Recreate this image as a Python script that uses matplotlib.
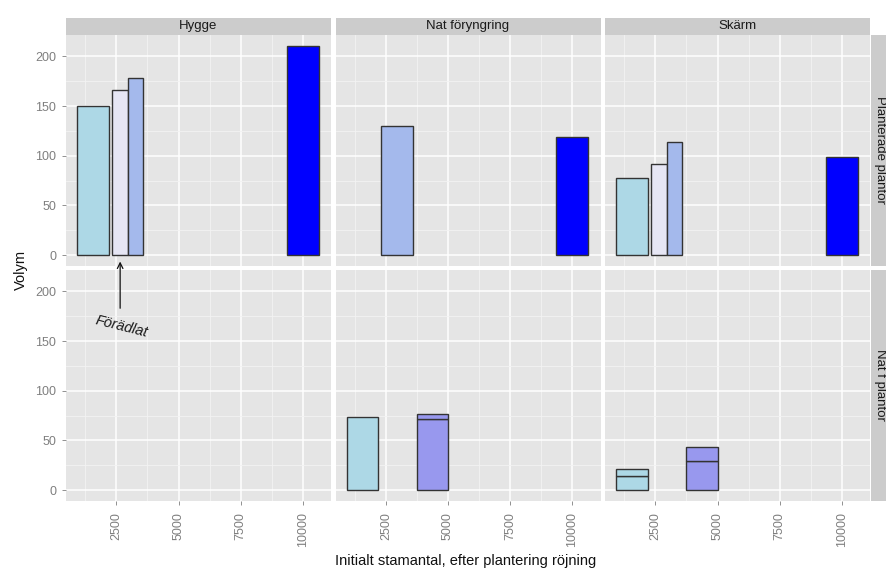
import matplotlib
matplotlib.use('Agg')
import matplotlib.pyplot as plt
from matplotlib.patches import Rectangle
import numpy as np

plt.rcParams['font.family'] = ['Liberation Sans', 'DejaVu Sans']

# ---------------- data ----------------
col_facets = ["Hygge", "Nat föryngring", "Skärm"]
row_facets = ["Planterade plantor", "Nat f plantor"]

x_ticks = [2500, 5000, 7500, 10000]
y_ticks = [0, 50, 100, 150, 200]

# one entry per bar segment
bar_row   = [0, 0, 0, 0,   0, 0,   0, 0, 0, 0,   1, 1, 1,   1, 1, 1, 1]
bar_col   = [0, 0, 0, 0,   1, 1,   2, 2, 2, 2,   1, 1, 1,   2, 2, 2, 2]
bar_stems = [1560, 2950, 2950, 10000,
             2950, 10000,
             1560, 2950, 2950, 10000,
             1560, 4370, 4370,
             1560, 1560, 4370, 4370]
bar_volume = [150, 166, 178, 210,
              130, 119,
              78, 92, 114, 99,
              74, 72, 5,
              14, 7, 29, 14]
bar_group = ["g1", "g2", "g3", "g4",
             "g3", "g4",
             "g1", "g2", "g3", "g4",
             "g1", "g5", "g5",
             "g1", "g1", "g5", "g5"]
# dodge slot: -1 left half, 0 full width, 1 right half
bar_dodge = [0, -1, 1, 0,
             0, 0,
             0, -1, 1, 0,
             0, 0, 0,
             0, 0, 0, 0]

group_colors = {"g1": "#ADD8E6", "g2": "#E6E6F4", "g3": "#A4B9EC",
                "g4": "#0000FF", "g5": "#9898EE"}

annotation_text = "Förädlat"
x_label = "Initialt stamantal, efter plantering röjning"
y_label = "Volym"

# ---------------- layout ----------------
W, H = 886, 570
fig = plt.figure(figsize=(W / 100, H / 100), dpi=100)
fig.patch.set_facecolor('white')

panel_x = [66, 335.5, 605]
panel_w = 265
panel_top = [34.5, 269.5]
panel_h = 231.5
strip_h = 17

xlim = (470, 11140)
ylim = (-11, 222)
bar_w = 1275

TICK_GREY = '#7F7F7F'


def fx(px):
    return px / W


def fy(py):
    return 1 - py / H


axes = {}
for r in range(2):
    for c in range(3):
        x0 = panel_x[c]
        y0 = panel_top[r]
        ax = fig.add_axes([fx(x0), fy(y0 + panel_h), panel_w / W, panel_h / H])
        ax.set_facecolor('#E5E5E5')
        for s in ax.spines.values():
            s.set_visible(False)
        ax.set_xlim(*xlim)
        ax.set_ylim(*ylim)
        ax.set_xticks(x_ticks)
        ax.set_yticks(y_ticks)
        ax.set_xticks(np.arange(x_ticks[0] / 2, xlim[1], x_ticks[1] - x_ticks[0]), minor=True)
        ax.set_yticks(np.arange(y_ticks[1] / 2, ylim[1], y_ticks[1] - y_ticks[0]), minor=True)
        ax.grid(which='major', color='white', lw=1.1)
        ax.grid(which='minor', color='#F3F3F3', lw=0.6)
        ax.set_axisbelow(True)
        ax.tick_params(which='minor', length=0)
        ax.tick_params(which='major', length=3, width=0.6, color=TICK_GREY,
                       labelcolor=TICK_GREY, labelsize=9)
        ax.tick_params(axis='y', pad=4)
        ax.tick_params(axis='x', labelrotation=90, pad=5)
        ax.set_xticklabels([str(v) for v in x_ticks])
        ax.set_yticklabels([str(v) for v in y_ticks])
        if c != 0:
            ax.tick_params(axis='y', left=False, labelleft=False)
        if r != 1:
            ax.tick_params(axis='x', bottom=False, labelbottom=False)
        axes[(r, c)] = ax

# bars (stacked where same slot repeats)
stack = {}
for r, c, xs, v, g, d in zip(bar_row, bar_col, bar_stems, bar_volume, bar_group, bar_dodge):
    key = (r, c, xs, d)
    base = stack.get(key, 0)
    if d == 0:
        xc, w = xs, bar_w
    else:
        xc, w = xs + d * bar_w / 4, bar_w / 2
    axes[(r, c)].bar(xc, v, width=w, bottom=base, color=group_colors[g],
                     edgecolor='#333333', linewidth=1.0, zorder=3)
    stack[key] = base + v

# strips
for c, name in enumerate(col_facets):
    fig.patches.append(Rectangle((fx(panel_x[c]), fy(panel_top[0])), panel_w / W, strip_h / H,
                                 transform=fig.transFigure, facecolor='#CCCCCC',
                                 edgecolor='none'))
    fig.text(fx(panel_x[c] + panel_w / 2), fy(panel_top[0] - strip_h / 2), name,
             ha='center', va='center', fontsize=9.5, color='#1A1A1A')

for r, name in enumerate(row_facets):
    fig.patches.append(Rectangle((fx(871), fy(panel_top[r] + panel_h)), strip_h / W, panel_h / H,
                                 transform=fig.transFigure, facecolor='#CCCCCC',
                                 edgecolor='none'))
    fig.text(fx(871 + strip_h / 2 + 1), fy(panel_top[r] + panel_h / 2), name,
             ha='center', va='center', fontsize=9.5, color='#1A1A1A', rotation=270)

# annotation in lower-left panel
axb = axes[(1, 0)]
ann = axb.annotate('', xy=(2650, 230), xytext=(2650, 183),
                   arrowprops=dict(arrowstyle='->', color='#111111', lw=0.9,
                                   shrinkA=0, shrinkB=0),
                   annotation_clip=False, zorder=10)
ann.arrow_patch.set_clip_on(False)
axb.text(2700, 165, annotation_text, rotation=-14, style='italic', ha='center',
         va='center', fontsize=10.5, color='#1A1A1A', clip_on=False, zorder=10)

# axis titles
fig.text(fx(466), fy(561), x_label, ha='center', va='center', fontsize=10.5, color='#111111')
fig.text(fx(21), fy(270), y_label, ha='center', va='center', fontsize=10.5,
         color='#111111', rotation=90)

fig.savefig('out.png', dpi=100)
